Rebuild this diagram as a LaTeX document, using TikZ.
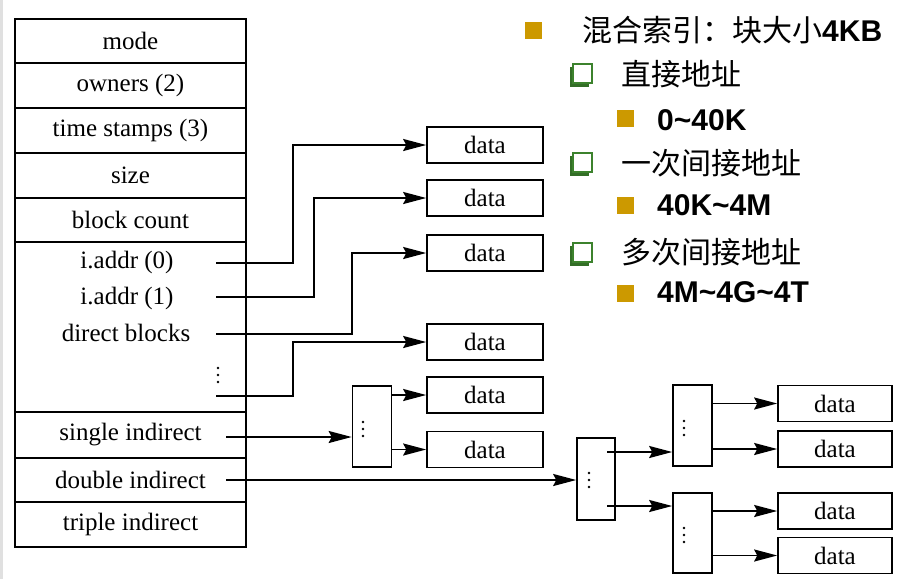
\documentclass[tikz,border=0pt]{standalone}
\usepackage{fontspec}
\newfontfamily\cjk{Noto Sans CJK SC}
\newfontfamily\asf{Liberation Sans}
\newfontfamily\tabfont{Liberation Serif}
\usetikzlibrary{arrows.meta,calc}
\definecolor{gold}{RGB}{204,153,0}
\definecolor{bgreen}{RGB}{60,130,45}
\begin{document}
\begin{tikzpicture}[x=1pt,y=-1pt,
  every node/.style={font=\tabfont\fontsize{25}{29}\selectfont},
  row/.style={draw, line width=1.6pt, minimum width=231pt, inner sep=0pt},
  datab/.style={draw, line width=1.6pt, minimum width=116pt, minimum height=36pt, inner sep=0pt},
  blk/.style={draw, line width=1.6pt, minimum width=39pt, minimum height=81pt, inner sep=0pt},
  conn/.style={line width=1.8pt, -{Stealth[length=23pt,width=12pt,inset=3pt]}},
  rtext/.style={anchor=base west, inner sep=0pt, font=\fontsize{30}{34}\selectfont},
  hbox/.pic={\fill[bgreen!85!black] (0,3) rectangle (19,23); \fill[white] (3,0) rectangle (22,19); \draw[bgreen, line width=1.4pt] (3,0) rectangle (22,19);}
]
\useasboundingbox (0,0) rectangle (903,579);
\fill[black!12] (0,0) rectangle (3,579);

% inode table
\node[row, minimum height=44pt] (mode)   at (130.5,41)    {mode};
\node[row, minimum height=45pt] (owners) at (130.5,85.5)  {owners (2)};
\node[row, minimum height=45pt] (times)  at (130.5,130.5) {time stamps (3)};
\node[row, minimum height=45pt] (size)   at (130.5,175.5) {size};
\node[row, minimum height=44pt] (count)  at (130.5,220)   {block count};
\node[row, minimum height=170pt] (direct) at (130.5,327)  {};
\node[row, minimum height=46pt] (single) at (130.5,435)   {single indirect};
\node[row, minimum height=44pt] (double) at (130.5,480)   {double indirect};
\node[row, minimum height=45pt] (triple) at (130.5,524.5) {triple indirect};

\node[anchor=base] (a0) at (127,268.5) {i.addr (0)};
\node[anchor=base] (a1) at (127,304) {i.addr (1)};
\node[anchor=base] (db) at (126,341.5) {direct blocks};
\foreach \yy in {368,375,382} \fill (218,\yy) circle (1.3);

% data blocks
\node[datab] (d1) at (485,145)   {data};
\node[datab] (d2) at (485,198)   {data};
\node[datab] (d3) at (485,253)   {data};
\node[datab] (d4) at (485,342)   {data};
\node[datab] (d5) at (485,395)   {data};
\node[datab] (d6) at (485,449.5) {data};

\node[blk] (s1) at (372,426.5) {};
\foreach \yy in {422,429,436} \fill (363,\yy) circle (1.3);
\node[blk, minimum width=38pt, minimum height=82pt] (b0) at (596,479) {};
\foreach \yy in {473,480,487} \fill (589,\yy) circle (1.3);
\node[blk] (b1) at (692.5,425.5) {};
\foreach \yy in {421,428,435} \fill (684,\yy) circle (1.3);
\node[blk, minimum height=80pt] (b2) at (692.5,533) {};
\foreach \yy in {528,535,542} \fill (684,\yy) circle (1.3);

\node[datab, minimum width=114pt] (e1) at (835,403.5) {data};
\node[datab, minimum width=114pt] (e2) at (835,449)   {data};
\node[datab, minimum width=114pt] (e3) at (835,511)   {data};
\node[datab, minimum width=114pt] (e4) at (835,555.5) {data};

% connectors
\coordinate (p0) at (216,263);
\coordinate (p1) at (216,297);
\coordinate (p2) at (216,334);
\coordinate (p3) at (216,396);
\coordinate (ps) at (226,437);
\coordinate (pd) at (226,480);
\coordinate (q1) at (607,452);
\coordinate (q2) at (607,506);

\draw[conn] (p0) -- ++(77,0) |- (d1);
\draw[conn] (p1) -- ++(98,0) |- (d2);
\draw[conn] (p2) -- ++(136,0) |- (d3);
\draw[conn] (p3) -- ++(77,0) |- (d4);
\draw[conn] (ps) -- (ps -| s1.west);
\draw[conn] (s1.east |- d5) -- (d5);
\draw[conn] (s1.east |- d6) -- (d6);
\draw[conn] (pd) -- (pd -| b0.west);
\draw[conn] (q1) -- (q1 -| b1.west);
\draw[conn] (q2) -- (q2 -| b2.west);
\draw[conn] (b1.east |- e1) -- (e1);
\draw[conn] (b1.east |- e2) -- (e2);
\draw[conn] (b2.east |- e3) -- (e3);
\draw[conn] (b2.east |- e4) -- (e4);

% right-hand list
\fill[gold] (525,22) rectangle (542,39);
\node[rtext] (t1) at (582,41) {{\cjk 混合索引：块大小}{\asf\bfseries 4KB}};
\pic at (570,64) {hbox};
\node[rtext] (t2) at (621,85) {\cjk 直接地址};
\fill[gold] (617,110) rectangle (634,127);
\node[rtext] (t3) at (657,130) {\asf\bfseries 0\textasciitilde 40K};
\pic at (570,153) {hbox};
\node[rtext] (t4) at (621,174) {\cjk 一次间接地址};
\fill[gold] (617,197) rectangle (634,214);
\node[rtext] (t5) at (657,215) {\asf\bfseries 40K\textasciitilde 4M};
\pic at (570,243) {hbox};
\node[rtext] (t6) at (621,263) {\cjk 多次间接地址};
\fill[gold] (617,285) rectangle (634,302);
\node[rtext] (t7) at (657,302) {\asf\bfseries 4M\textasciitilde 4G\textasciitilde 4T};
\end{tikzpicture}
\end{document}
